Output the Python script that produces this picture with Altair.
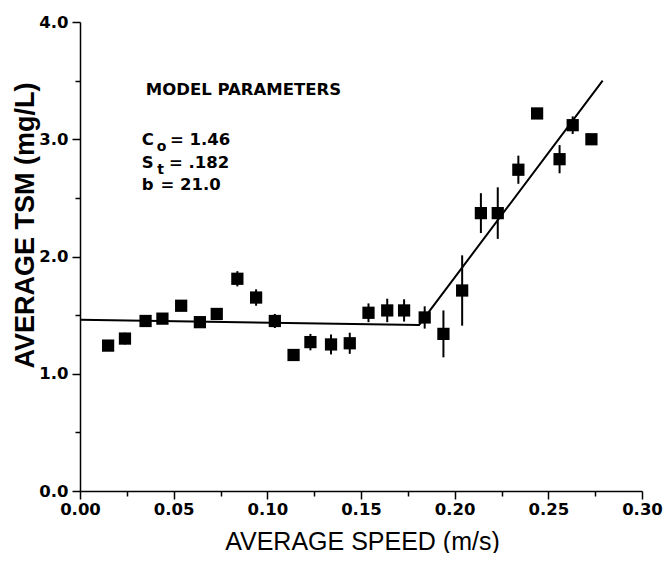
import altair as alt
import pandas as pd

# Data
speed = [0.015, 0.024, 0.035, 0.044, 0.054, 0.064, 0.073, 0.084, 0.094, 0.104,
         0.114, 0.123, 0.134, 0.144, 0.154, 0.164, 0.173, 0.184, 0.194, 0.204,
         0.214, 0.223, 0.234, 0.244, 0.256, 0.263, 0.273]
tsm = [1.24, 1.30, 1.45, 1.47, 1.58, 1.44, 1.51, 1.81, 1.65, 1.45,
       1.16, 1.27, 1.25, 1.26, 1.52, 1.54, 1.54, 1.48, 1.34, 1.71,
       2.37, 2.37, 2.74, 3.22, 2.83, 3.12, 3.00]
err = [0.0, 0.05, 0.0, 0.03, 0.0, 0.0, 0.04, 0.065, 0.07, 0.06,
       0.0, 0.07, 0.085, 0.09, 0.08, 0.10, 0.095, 0.095, 0.20, 0.30,
       0.17, 0.22, 0.12, 0.04, 0.12, 0.075, 0.0]

fit_x = [0.0, 0.181, 0.1835, 0.279]
fit_y = [1.46, 1.415, 1.47, 3.50]

x_ticks = [0.0, 0.025, 0.05, 0.075, 0.1, 0.125, 0.15, 0.175, 0.2, 0.225, 0.25, 0.275, 0.3]
y_ticks = [0.0, 0.5, 1.0, 1.5, 2.0, 2.5, 3.0, 3.5, 4.0]

ann_text = ["MODEL PARAMETERS", "C", "= 1.46", "S", "= .182", "b", "= 21.0"]
ann_x = [0.0351, 0.0330, 0.0480, 0.0330, 0.0475, 0.0330, 0.0430]
ann_y = [3.42, 2.99, 2.99, 2.80, 2.80, 2.61, 2.61]
sub_text = ["o", "t"]
sub_x = [0.0410, 0.0413]
sub_y = [2.93, 2.74]

pts = pd.DataFrame({"speed": speed, "tsm": tsm, "err": err})
pts["lo"] = pts["tsm"] - pts["err"]
pts["hi"] = pts["tsm"] + pts["err"]
fit = pd.DataFrame({"x": fit_x, "y": fit_y, "o": list(range(len(fit_x)))})
ann = pd.DataFrame({"t": ann_text, "x": ann_x, "y": ann_y})
sub = pd.DataFrame({"t": sub_text, "x": sub_x, "y": sub_y})

FONT = "DejaVu Sans"

major_x = "abs(datum.value*20 - round(datum.value*20)) < 0.001"
major_y = "abs(datum.value - round(datum.value)) < 0.001"

xscale = alt.Scale(domain=[0, 0.3], nice=False, zero=False)
yscale = alt.Scale(domain=[0, 4], nice=False, zero=False)

xaxis = alt.Axis(
    values=x_ticks,
    labelExpr=f"{major_x} ? format(datum.value, '.2f') : ''",
    tickSize={"condition": {"test": major_x, "value": 8}, "value": 5},
    labelOverlap=False, labelFlush=False, grid=False,
    title="AVERAGE SPEED (m/s)", titleFont="Liberation Sans", titleFontSize=25,
    titleFontWeight="normal", titleX=282, titleY=50, titleBaseline="middle",
    titleAnchor="middle", titleAlign="center",
    labelPadding=2,
)
yaxis = alt.Axis(
    values=y_ticks,
    labelExpr=f"{major_y} ? format(datum.value, '.1f') : ''",
    tickSize={"condition": {"test": major_y, "value": 8}, "value": 5},
    labelOverlap=False, labelFlush=False, grid=False,
    title="AVERAGE TSM (mg/L)", titleFont="Liberation Sans", titleFontSize=27,
    titleFontWeight="bold", titleX=-55, titleY=203, titleAngle=270,
    titleBaseline="middle", titleAlign="center",
    labelPadding=4,
)

base = alt.Chart(pts)

bars = base.mark_rule(color="black", strokeWidth=2).encode(
    x=alt.X("speed:Q", scale=xscale, axis=xaxis),
    y=alt.Y("lo:Q", scale=yscale, axis=yaxis),
    y2="hi:Q",
)
squares = base.mark_point(shape="square", filled=True, color="black", size=150, opacity=1).encode(
    x=alt.X("speed:Q", scale=xscale),
    y=alt.Y("tsm:Q", scale=yscale),
)
line = alt.Chart(fit).mark_line(color="black", strokeWidth=2).encode(
    x=alt.X("x:Q", scale=xscale),
    y=alt.Y("y:Q", scale=yscale),
    order="o:Q",
)
annot = alt.Chart(ann).mark_text(align="left", baseline="middle", font=FONT,
                                  fontWeight="bold", fontSize=16.5, color="black").encode(
    x=alt.X("x:Q", scale=xscale),
    y=alt.Y("y:Q", scale=yscale),
    text="t:N",
)
subs = alt.Chart(sub).mark_text(align="left", baseline="middle", font=FONT,
                                 fontWeight="bold", fontSize=14, color="black").encode(
    x=alt.X("x:Q", scale=xscale),
    y=alt.Y("y:Q", scale=yscale),
    text="t:N",
)

chart = alt.layer(line, bars, squares, annot, subs).properties(
    width=562, height=469,
    autosize=alt.AutoSizeParams(type="none"),
    padding={"left": 72, "top": 14, "right": 21, "bottom": 62},
).configure_view(stroke=None).configure_axis(
    domainColor="black", domainWidth=1.5, tickColor="black", tickWidth=1.5,
    labelFont=FONT, labelFontWeight="bold", labelFontSize=16.5, labelColor="black",
    titleColor="black",
)

chart.save("out.html", embed_options={"renderer": "svg", "actions": False})
